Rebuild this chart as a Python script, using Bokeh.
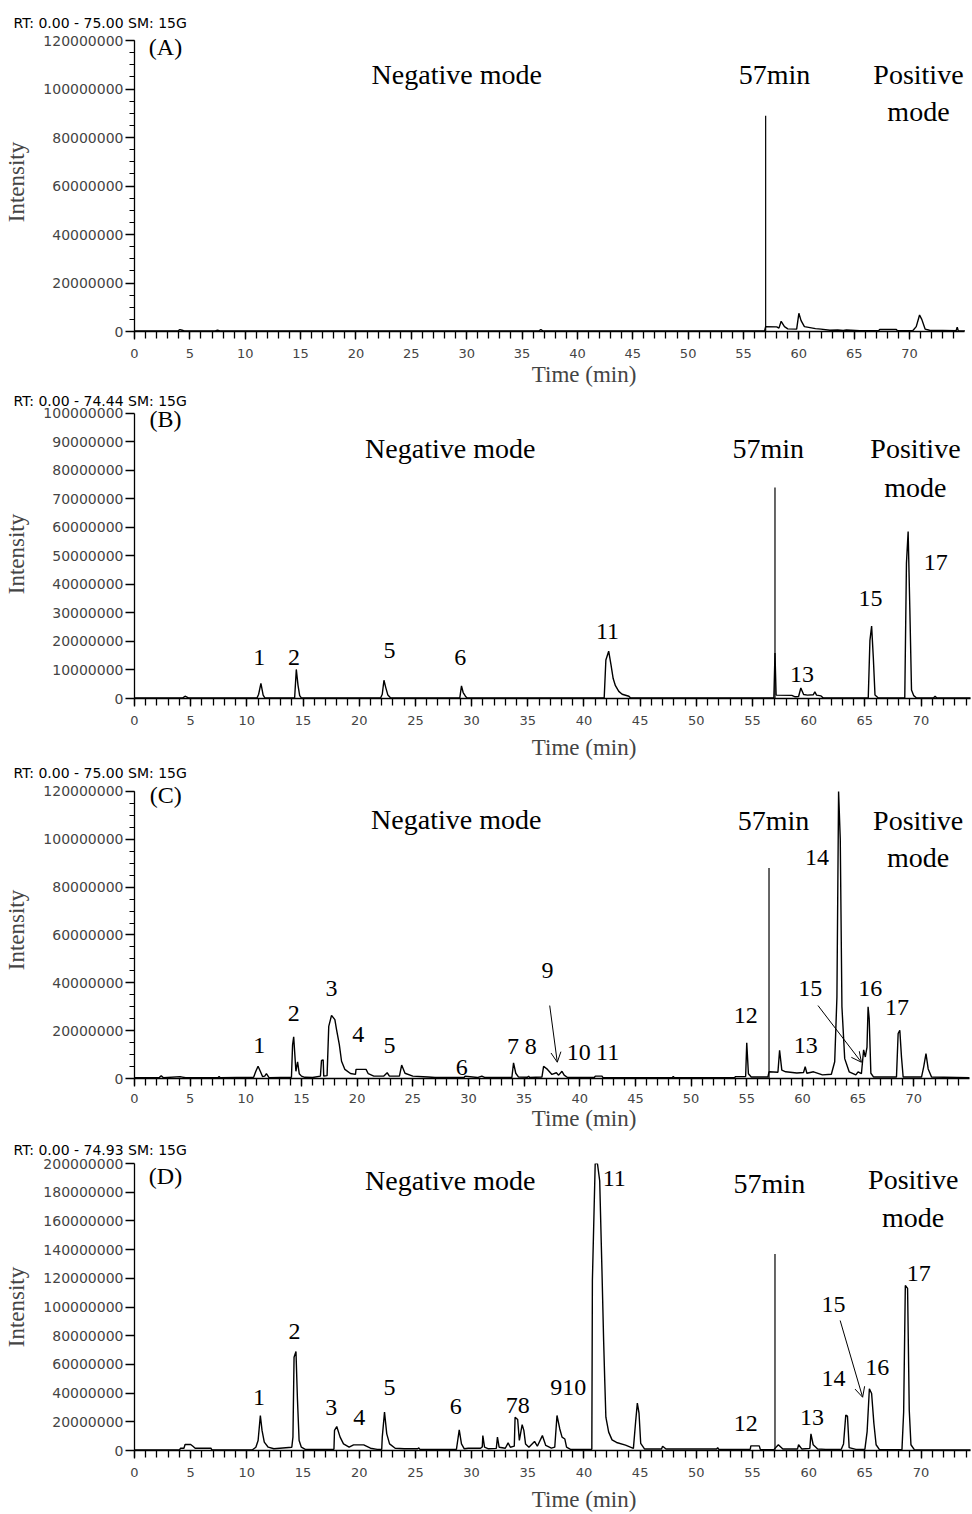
from bokeh.plotting import figure
from bokeh.layouts import column
from bokeh.models import Range1d, FixedTicker, NumeralTickFormatter, Label, Arrow, OpenHead
from bokeh.embed import file_html
from bokeh.resources import INLINE

M = 1e6  # intensities below are given in millions of counts

# ---------------- Panel A ----------------
a_time = [0.0, 3.9, 4.1, 4.3, 4.5, 7.3, 7.5, 7.7, 36.5, 36.7, 36.9, 56.9, 57.0,
          58.0, 58.2, 58.4, 58.7, 59.0, 59.8, 60.0, 60.2, 60.5, 61.0, 61.5, 62.0,
          62.8, 63.5, 64.0, 64.3, 65.5, 67.2, 67.3, 68.8, 68.9, 70.3, 70.6, 70.9,
          71.1, 71.4, 71.8, 74.2, 74.3, 74.4, 75.0]
a_intensity = [0.2, 0.2, 0.8, 0.5, 0.2, 0.2, 0.6, 0.2, 0.2, 0.8, 0.2, 0.2, 2.0,
               1.9, 1.4, 4.2, 2.0, 1.1, 1.0, 7.5, 4.5, 2.0, 1.6, 1.2, 1.0,
               0.5, 0.6, 0.4, 0.6, 0.3, 0.3, 0.8, 0.8, 0.3, 0.4, 2.0, 6.8,
               5.0, 1.0, 0.5, 0.3, 1.8, 0.2, 0.2]

# ---------------- Panel B ----------------
b_time = [0.0, 4.3, 4.5, 4.8, 10.9, 11.05, 11.25, 11.45, 11.6, 14.25, 14.4, 14.55,
          14.7, 14.85, 21.9, 22.05, 22.2, 22.35, 22.55, 22.8, 28.95, 29.1, 29.25, 29.45,
          29.6, 41.8, 41.95, 42.2, 42.4, 42.6, 42.8, 43.1, 43.4, 44.0, 44.15, 56.9,
          57.0, 57.1, 58.5, 58.8, 59.1, 59.3, 59.55, 59.9, 60.4, 60.55, 60.7, 61.1,
          61.3, 65.3, 65.45, 65.6, 65.75, 65.9, 66.2, 68.55, 68.7, 68.85, 69.0,
          69.15, 69.35, 69.6, 71.1, 71.25, 71.4, 74.44]
b_intensity = [0.2, 0.2, 0.8, 0.2, 0.2, 1.5, 5.3, 1.2, 0.2, 0.2, 10.2, 4.7,
               1.0, 0.2, 0.2, 1.5, 6.4, 4.0, 1.2, 0.2, 0.2, 4.4, 2.1, 0.8,
               0.2, 0.2, 13.5, 16.6, 12.0, 7.0, 4.5, 2.5, 1.5, 0.8, 0.2, 0.2,
               16.0, 1.2, 1.1, 0.6, 0.7, 3.7, 1.4, 1.2, 1.3, 2.3, 1.2, 0.9,
               0.2, 0.2, 20.4, 25.4, 14.5, 1.2, 0.2, 0.2, 47.5, 58.6, 31.7,
               3.0, 1.0, 0.2, 0.2, 0.8, 0.2, 0.2]

# ---------------- Panel C ----------------
c_time = [0.0, 2.2, 2.4, 2.6, 4.1, 4.3, 4.6, 7.5, 7.6, 7.7,
          10.7, 10.9, 11.1, 11.3, 11.5, 11.7, 11.85, 12.1, 14.1, 14.2,
          14.3, 14.5, 14.65, 14.8, 15.0, 15.3, 16.0, 16.7, 16.8, 16.95,
          17.0, 17.3, 17.45, 17.7, 18.0, 18.15, 18.4, 18.6, 18.9, 19.4,
          19.85, 19.9, 20.8, 21.0, 21.5, 22.4, 22.7, 22.9, 23.8, 24.0,
          24.3, 25.0, 26.4, 27.0, 29.6, 29.7, 30.8, 31.2, 31.5, 33.9,
          34.05, 34.25, 34.5, 35.3, 35.4, 35.5, 36.6, 36.75, 37.1, 37.5,
          37.9, 38.1, 38.4, 38.6, 38.9, 41.3, 41.4, 42.0, 42.1, 48.3,
          48.4, 48.5, 53.9, 54.0, 54.9, 55.0, 55.15, 55.4, 56.9, 57.0,
          57.8, 57.95, 58.15, 58.5, 59.5, 60.1, 60.25, 60.4, 61.0, 61.8,
          62.6, 62.9, 63.1, 63.25, 63.4, 63.55, 63.8, 64.2, 64.8, 65.0,
          65.3, 65.5, 65.65, 65.8, 65.9, 66.0, 66.15, 66.4, 68.45, 68.6,
          68.75, 68.9, 69.05, 70.7, 70.9, 71.1, 71.3, 71.6, 75.0]
c_intensity = [0.3, 0.3, 1.2, 0.3, 0.8, 0.6, 0.3, 0.3, 0.8, 0.3,
               0.5, 3.0, 5.1, 3.0, 0.8, 1.0, 2.0, 0.3, 0.5, 14.0,
               17.4, 3.0, 7.0, 2.0, 1.0, 0.5, 0.4, 1.0, 7.6, 7.8,
               1.0, 1.2, 21.8, 26.4, 24.6, 20.4, 14.2, 7.2, 3.8, 2.1,
               1.7, 3.8, 3.8, 2.0, 1.0, 1.0, 2.4, 1.0, 1.0, 5.6,
               2.2, 1.0, 0.6, 0.4, 0.4, 1.0, 0.4, 1.0, 0.4, 0.4,
               6.5, 2.2, 0.6, 0.5, 1.0, 0.4, 0.6, 5.1, 3.8, 1.7,
               2.4, 1.4, 3.0, 1.4, 0.4, 0.4, 1.0, 1.0, 0.3, 0.3,
               0.8, 0.3, 0.3, 0.8, 0.8, 14.9, 2.0, 0.6, 0.6, 2.8,
               2.6, 11.8, 3.5, 2.8, 2.3, 2.5, 4.9, 2.2, 2.8, 1.5,
               1.8, 7.0, 34.0, 120.0, 100.0, 30.0, 8.3, 2.8, 1.5, 2.8,
               2.0, 12.0, 9.0, 13.0, 30.0, 25.0, 2.2, 0.6, 0.6, 18.8,
               20.2, 9.0, 0.6, 0.6, 5.0, 10.4, 4.0, 0.6, 0.3]

# ---------------- Panel D ----------------
d_time = [0.0, 4.0, 4.1, 4.4, 4.5, 5.0, 5.2, 5.4, 6.8, 6.9,
          10.5, 10.8, 11.0, 11.2, 11.35, 11.55, 11.9, 12.4, 14.0, 14.1,
          14.2, 14.37, 14.5, 14.65, 14.85, 15.2, 17.75, 17.8, 18.0, 18.3,
          18.6, 19.1, 19.5, 20.4, 21.0, 21.6, 22.0, 22.05, 22.25, 22.45,
          22.7, 23.2, 24.0, 25.2, 25.3, 25.4, 28.65, 28.9, 29.1, 29.35,
          29.7, 30.8, 30.95, 31.0, 31.15, 31.5, 32.2, 32.3, 32.45, 33.0,
          33.25, 33.45, 33.8, 33.87, 34.1, 34.25, 34.5, 34.65, 34.8, 35.1,
          35.6, 35.85, 36.3, 36.6, 37.1, 37.4, 37.6, 37.85, 38.05, 38.3,
          38.45, 38.8, 40.7, 40.75, 41.0, 41.2, 41.4, 41.6, 41.75, 41.85,
          41.95, 42.2, 42.5, 42.9, 43.7, 44.4, 44.6, 44.75, 44.9, 45.05,
          45.4, 46.9, 47.0, 47.3, 51.8, 51.9, 52.0, 54.8, 54.85, 55.6,
          55.7, 56.9, 57.3, 57.7, 59.0, 59.1, 59.4, 60.1, 60.2, 60.4,
          60.8, 61.5, 62.9, 63.1, 63.3, 63.45, 63.6, 64.2, 65.0, 65.2,
          65.4, 65.6, 65.8, 66.0, 66.3, 68.3, 68.45, 68.6, 68.8, 68.95,
          69.1, 69.4, 74.93]
d_intensity = [0.3, 0.3, 1.6, 1.6, 4.2, 4.2, 3.0, 1.6, 1.6, 0.3,
               0.5, 2.3, 7.0, 24.4, 14.0, 5.8, 2.3, 1.2, 2.3, 9.3,
               65.0, 69.0, 36.0, 7.0, 2.3, 0.8, 0.8, 14.0, 16.7, 9.3,
               4.6, 2.3, 3.9, 3.9, 1.6, 0.8, 0.8, 9.3, 26.7, 11.6,
               4.6, 1.6, 1.2, 1.2, 1.8, 0.8, 0.8, 14.4, 4.6, 1.2,
               1.6, 1.6, 2.5, 10.4, 2.3, 1.2, 1.5, 9.3, 2.3, 1.6,
               5.3, 2.3, 3.0, 23.2, 21.6, 7.0, 18.0, 14.0, 4.6, 2.3,
               6.3, 3.0, 10.4, 3.5, 1.6, 2.3, 24.4, 15.0, 9.3, 8.0,
               2.3, 0.8, 0.8, 118.6, 200.0, 200.0, 188.0, 126.0, 76.7, 48.8,
               23.2, 12.8, 7.4, 5.6, 3.7, 1.5, 20.2, 33.0, 26.0, 5.0,
               1.0, 1.0, 3.0, 1.0, 1.0, 2.0, 0.8, 0.8, 3.2, 3.2,
               0.6, 0.6, 4.0, 1.0, 1.0, 4.0, 1.0, 1.5, 11.6, 4.0,
               1.0, 0.8, 0.8, 4.6, 24.7, 24.0, 2.0, 0.8, 0.8, 13.2,
               43.0, 39.7, 19.0, 4.0, 0.6, 0.6, 26.7, 115.0, 113.0, 28.0,
               4.0, 0.6, 0.3]

# tall marker line at the 57 min polarity switch (height, millions)
switch_time = 57.0
switch_top = [89.0, 74.0, 88.0, 137.0]

# peak numbers: text, time (min), label height (millions)
b_peaks = ["1", "2", "5", "6", "11", "13", "15", "17"]
b_peak_t = [11.1, 14.2, 22.7, 29.0, 42.1, 59.4, 65.5, 71.3]
b_peak_i = [14.4, 14.4, 16.8, 14.4, 23.5, 8.3, 35.0, 47.8]

c_peaks = ["1", "2", "3", "4", "5", "6", "7", "8", "9", "10", "11",
           "12", "13", "14", "15", "16", "17"]
c_peak_t = [11.2, 14.3, 17.7, 20.1, 22.9, 29.4, 34.0, 35.6, 37.1, 39.9, 42.5,
            54.9, 60.3, 61.3, 60.7, 66.1, 68.5]
c_peak_i = [13.8, 27.2, 37.6, 18.4, 13.8, 4.6, 13.4, 13.4, 45.2, 11.0, 11.0,
            26.3, 13.8, 92.5, 37.5, 37.5, 29.8]

d_peaks = ["1", "2", "3", "4", "5", "6", "78", "910", "11", "12", "13",
           "14", "15", "16", "17"]
d_peak_t = [11.07, 14.25, 17.5, 20.0, 22.7, 28.6, 34.1, 38.6, 42.7, 54.4, 60.3,
            62.2, 62.2, 66.1, 69.8]
d_peak_i = [36.9, 83.1, 30.2, 22.8, 44.1, 30.7, 31.4, 44.1, 189.3, 18.6, 23.2,
            50.0, 101.7, 58.0, 123.5]

x_major_ticks = list(range(0, 71, 5))
x_minor_ticks = list(range(0, 75))

SERIF = "Liberation Serif"
SANS = "DejaVu Sans"
FRAME_LEFT = 134
FIG_W = 972
NBSP = "\u00a0"


def add_text(p, x, y, text, size, font=SERIF, align="center"):
    p.add_layout(Label(x=x, y=y, text=text, text_font=font, text_font_size=size,
                       text_align=align, text_baseline="middle", text_color="black"))


def build(cfg):
    p = figure(width=FIG_W, height=cfg["height"], output_backend="svg",
               toolbar_location=None, x_range=Range1d(0, cfg["x_end"]),
               y_range=Range1d(0, cfg["y_end"] * M),
               min_border_left=FRAME_LEFT, min_border_right=2,
               min_border_top=cfg["top"], min_border_bottom=cfg["bottom"])
    p.outline_line_color = None
    p.grid.visible = False
    p.background_fill_color = "white"
    p.border_fill_color = "white"

    # run header as the plot title, pushed to the left edge
    p.title.text = cfg["header"]
    p.title.align = "left"
    p.title.offset = 13 - FRAME_LEFT
    p.title.standoff = cfg["title_gap"]
    p.title.text_font = SANS
    p.title.text_font_size = "14px"
    p.title.text_font_style = "normal"
    p.title.text_color = "black"

    p.line(cfg["t"], [v * M for v in cfg["i"]], line_color="black", line_width=1.4)

    # 57 min switch line
    p.add_layout(Arrow(x_start=switch_time, y_start=0,
                       x_end=switch_time, y_end=cfg["switch"] * M,
                       start=None, end=None, line_color="black", line_width=1.2))

    xa = p.xaxis[0]
    xa.ticker = FixedTicker(ticks=x_major_ticks, minor_ticks=x_minor_ticks)
    xa.bounds = (0, cfg["x_axis_end"])
    xa.axis_label = NBSP * 11 + "Time (min)"
    xa.axis_label_text_font = SERIF
    xa.axis_label_text_font_style = "normal"
    xa.axis_label_text_font_size = "23px"
    xa.axis_label_standoff = cfg["xlabel_gap"]
    xa.major_label_text_font = SANS
    xa.major_label_text_font_size = "13px"
    xa.major_label_standoff = cfg["tick_gap"]
    xa.major_tick_out = 8
    xa.major_tick_in = 0
    xa.minor_tick_out = 7
    xa.minor_tick_in = 0
    xa.axis_line_width = 1.5
    xa.major_tick_line_width = 1.3
    xa.minor_tick_line_width = 1.3

    ya = p.yaxis[0]
    ya.ticker = FixedTicker(ticks=[v * M for v in cfg["y_major"]],
                            minor_ticks=[v * M for v in cfg["y_minor"]])
    ya.bounds = (0, cfg["y_top"] * M)
    ya.formatter = NumeralTickFormatter(format="0")
    ya.axis_label = "Intensity"
    ya.axis_label_text_font = SERIF
    ya.axis_label_text_font_style = "normal"
    ya.axis_label_text_font_size = "23px"
    ya.axis_label_standoff = 11
    ya.major_label_text_font = SANS
    ya.major_label_text_font_size = "14px"
    ya.major_label_standoff = 2
    ya.major_tick_out = 9
    ya.major_tick_in = 0
    ya.minor_tick_out = 5
    ya.minor_tick_in = 0
    ya.axis_line_width = 1.3
    ya.major_tick_line_width = 1.3

    add_text(p, cfg["letter_pos"][0], cfg["letter_pos"][1] * M, cfg["letter"], "24px")
    add_text(p, cfg["neg"][0], cfg["neg"][1] * M, "Negative mode", "28px")
    add_text(p, cfg["sw"][0], cfg["sw"][1] * M, "57min", "28px")
    add_text(p, cfg["pos"][0], cfg["pos"][1] * M, "Positive", "28px")
    add_text(p, cfg["pos"][0], cfg["pos"][2] * M, "mode", "28px")
    for txt, t, i in zip(cfg["peaks"], cfg["peak_t"], cfg["peak_i"]):
        add_text(p, t, i * M, txt, "24px")
    for (x0, y0, x1, y1) in cfg["arrows"]:
        p.add_layout(Arrow(x_start=x0, y_start=y0 * M, x_end=x1, y_end=y1 * M,
                           end=OpenHead(size=10, line_width=1, line_color="black"),
                           line_color="black", line_width=1))
    return p


panels = [
    dict(height=389, top=32, bottom=58, title_gap=4, xlabel_gap=1, tick_gap=9,
         x_end=75.5, x_axis_end=75.0, y_top=120, y_end=123.3,
         y_major=list(range(0, 121, 20)), y_minor=list(range(0, 121, 5)),
         t=a_time, i=a_intensity, switch=switch_top[0],
         header="RT: 0.00 - 75.00   SM: 15G",
         letter="(A)", letter_pos=(2.8, 117.5),
         neg=(29.1, 106.0), sw=(57.8, 106.0), pos=(70.8, 106.0, 90.7),
         peaks=[], peak_t=[], peak_i=[], arrows=[]),
    dict(height=373, top=20, bottom=64, title_gap=2, xlabel_gap=7, tick_gap=9,
         x_end=74.4, x_axis_end=74.44, y_top=100, y_end=101.4,
         y_major=list(range(0, 101, 10)), y_minor=[],
         t=b_time, i=b_intensity, switch=switch_top[1],
         header="RT: 0.00 - 74.44   SM: 15G",
         letter="(B)", letter_pos=(2.76, 98.2),
         neg=(28.1, 87.7), sw=(56.4, 87.7), pos=(69.5, 87.7, 74.0),
         peaks=b_peaks, peak_t=b_peak_t, peak_i=b_peak_i, arrows=[]),
    dict(height=371, top=19, bottom=55, title_gap=1, xlabel_gap=0, tick_gap=7,
         x_end=75.1, x_axis_end=75.0, y_top=120, y_end=124.18,
         y_major=list(range(0, 121, 20)), y_minor=list(range(0, 121, 5)),
         t=c_time, i=c_intensity, switch=switch_top[2],
         header="RT: 0.00 - 75.00   SM: 15G",
         letter="(C)", letter_pos=(2.8, 118.7),
         neg=(28.9, 108.3), sw=(57.4, 107.9), pos=(70.4, 107.9, 92.4),
         peaks=c_peaks, peak_t=c_peak_t, peak_i=c_peak_i,
         arrows=[(37.3, 30.5, 37.98, 6.8), (61.4, 30.5, 65.3, 6.8)]),
    dict(height=381, top=30, bottom=64, title_gap=12, xlabel_gap=7, tick_gap=9,
         x_end=74.4, x_axis_end=74.4, y_top=200, y_end=200.0,
         y_major=list(range(0, 201, 20)), y_minor=[],
         t=d_time, i=d_intensity, switch=switch_top[3],
         header="RT: 0.00 - 74.93   SM: 15G",
         letter="(D)", letter_pos=(2.76, 191.6),
         neg=(28.1, 188.2), sw=(56.5, 186.0), pos=(69.3, 188.9, 162.4),
         peaks=d_peaks, peak_t=d_peak_t, peak_i=d_peak_i,
         arrows=[(62.8, 90.6, 64.8, 37.1)]),
]

figs = [build(cfg) for cfg in panels]
layout = column(*figs, spacing=0)
open("out.html", "w").write(file_html(layout, INLINE))
